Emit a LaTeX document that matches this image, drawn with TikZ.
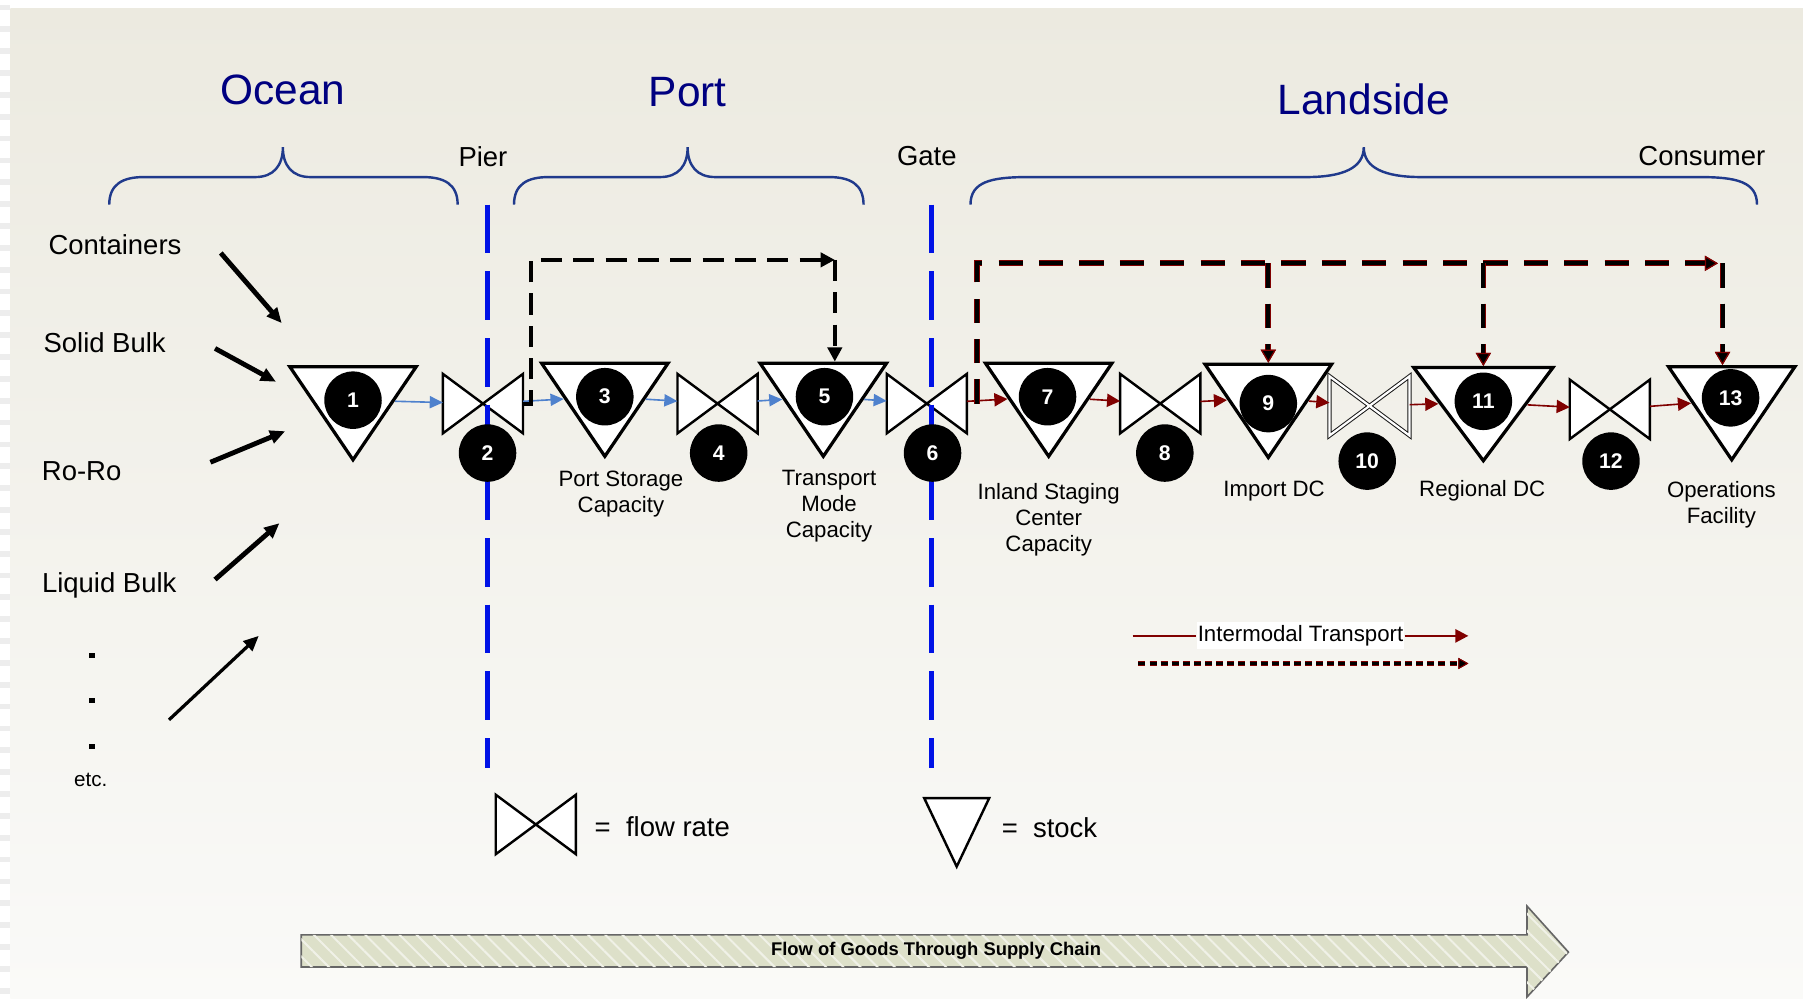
\documentclass[tikz,border=0pt]{standalone}
\usepackage{fontspec}
\setmainfont{Liberation Sans}
\usetikzlibrary{positioning, arrows.meta, shapes.geometric, patterns.meta}

\definecolor{navy}{RGB}{0,0,128}
\definecolor{bracecol}{RGB}{32,58,140}
\definecolor{pierblue}{RGB}{0,18,230}
\definecolor{flowblue}{RGB}{79,129,205}
\definecolor{darkred}{RGB}{128,0,0}
\definecolor{bgtop}{RGB}{236,234,224}
\definecolor{bgbottom}{RGB}{250,250,248}
\definecolor{shaft}{RGB}{221,224,201}

\tikzset{
	title/.style={text=navy, font=\fontsize{21}{25}\selectfont},
	tag/.style={font=\fontsize{13.6}{16}\selectfont},
	caption/.style={font=\fontsize{11}{12.8}\selectfont, align=center},
	stock/.style={isosceles triangle, isosceles triangle stretches, shape border rotate=270,
		draw, fill=white, line width=1.6pt, minimum width=2.2cm, minimum height=1.62cm, inner sep=0pt},
	valve/.style={minimum width=1.38cm, minimum height=1.02cm, inner sep=0pt,
		append after command={\pgfextra{\draw[fill=white, line width=1.2pt, #1]
			(\tikzlastnode.north west) -- (\tikzlastnode.south east) -- (\tikzlastnode.north east)
			-- (\tikzlastnode.south west) -- cycle;}}},
	valve/.default={},
	num/.style={circle, fill=black, text=white, minimum size=1cm, inner sep=0pt,
		font=\fontsize{10.5}{12}\selectfont\bfseries},
	dot/.style={rectangle, fill=black, minimum size=0.09cm, inner sep=0pt},
	brace/.style={draw=bracecol, line width=1.2pt},
	pierline/.style={draw=pierblue, line width=2.7pt, dash pattern=on 24pt off 9pt},
	input/.style={line width=2.4pt, -{Triangle[length=7.5pt, width=6.5pt]}},
	flowb/.style={color=flowblue, line width=0.8pt, -{Triangle[length=6.5pt, width=6pt]}},
	flowr/.style={color=darkred, line width=0.8pt, -{Triangle[length=6.5pt, width=6.5pt]}},
	blkdash/.style={line width=2pt, dash pattern=on 10.5pt off 5.5pt, -{Triangle[length=7pt, width=7pt]}},
	reddash/.style={line width=2pt, dash pattern=on 12pt off 8pt,
		preaction={draw=darkred, line width=2.8pt, dash pattern=on 12pt off 8pt},
		-{Triangle[length=6.5pt, width=7.5pt, color=darkred, fill=black, line width=0.6pt]}},
	legdash/.style={line width=1.5pt, dash pattern=on 3.5pt off 2pt,
		preaction={draw=darkred, line width=2.2pt, dash pattern=on 3.5pt off 2pt},
		-{Triangle[length=5pt, width=5.5pt, color=darkred, fill=black, line width=0.5pt]}},
	legred/.style={draw=darkred, line width=1.2pt},
	bigarrow/.style={draw=black!60, line width=0.8pt, fill=shaft,
		postaction={pattern={Lines[angle=-45, distance=6pt, line width=1pt]}, pattern color=white!55!shaft}}
}

\begin{document}
\begin{tikzpicture}[x=0.02cm, y=-0.02cm]
	\useasboundingbox (0,0) rectangle (1568,868);
	\shade[top color=bgtop, bottom color=bgbottom] (9,7) rectangle (1568,868);
	\foreach \y in {4,23,...,868}
		\fill[black!7] (0,\y) rectangle (9,\y+5);

	\node[title] (ocean) at (246,78) {Ocean};
	\node[title] (port) at (598,80) {Port};
	\node[title] (land) at (1186,86) {Landside};
	\node[tag] (pier) at (420,136) {Pier};
	\node[tag] (gate) at (806,136) {Gate};
	\node[tag] (consumer) at (1480,136) {Consumer};

	\draw[brace] (95,178) .. controls (95,160) and (107,154) .. (125,154) -- (222,154)
		.. controls (238,154) and (246,144) .. (246,128) .. controls (246,144) and (254,154) .. (270,154)
		-- (368,154) .. controls (386,154) and (398,160) .. (398,178);
	\draw[brace] (447,178) .. controls (447,160) and (459,154) .. (477,154) -- (574,154)
		.. controls (590,154) and (598,144) .. (598,128) .. controls (598,144) and (606,154) .. (622,154)
		-- (721,154) .. controls (739,154) and (751,160) .. (751,178);
	\draw[brace] (844,178) .. controls (844,158) and (862,154) .. (894,154) -- (1136,154)
		.. controls (1168,154) and (1186,146) .. (1186,128) .. controls (1186,146) and (1204,154) .. (1236,154)
		-- (1478,154) .. controls (1510,154) and (1528,158) .. (1528,178);

	\node[stock] (t1) at (307,348) {};
	\node[stock] (t3) at (526,345) {};
	\node[stock] (t5) at (716,345) {};
	\node[stock] (t7) at (912,345) {};
	\node[stock] (t9) at (1103,346) {};
	\node[stock, minimum width=2.42cm] (t11) at (1290,350) {};
	\node[stock] (t13) at (1506,348) {};

	\node[valve] (b2) at (420,351) {};
	\node[valve] (b4) at (624,351) {};
	\node[valve] (b6) at (806,351) {};
	\node[valve] (b8) at (1009,351) {};
	\node[valve={fill=none, draw=black!90, double=white, double distance=1.1pt, line width=0.5pt}] (b10) at (1191,353) {};
	\node[valve] (b12) at (1400,356) {};

	\draw[pierline] (424,178) -- (424,668);
	\draw[pierline] (810,178) -- (810,668);

	\node[num] (n1) at (307,348) {1};
	\node[num] (n2) at (424,394) {2};
	\node[num] (n3) at (526,345) {3};
	\node[num] (n4) at (625,394) {4};
	\node[num] (n5) at (717,345) {5};
	\node[num] (n6) at (811,394) {6};
	\node[num] (n7) at (911,345) {7};
	\node[num] (n8) at (1013,394) {8};
	\node[num] (n9) at (1103,351) {9};
	\node[num] (n10) at (1189,401) {10};
	\node[num] (n11) at (1290,349) {11};
	\node[num] (n12) at (1401,401) {12};
	\node[num] (n13) at (1505,346) {13};

	\node[caption] (c3) at (540,430) {Port Storage\\Capacity};
	\node[caption] (c5) at (721,440) {Transport\\Mode\\Capacity};
	\node[caption] (c7) at (912,452) {Inland Staging\\Center\\Capacity};
	\node[caption] (c9) at (1108,427) {Import DC};
	\node[caption] (c11) at (1289,427) {Regional DC};
	\node[caption] (c13) at (1497,439) {Operations\\Facility};

	\path[flowb]
		(t1) edge (b2)
		(b2) edge (t3)
		(t3) edge (b4)
		(b4) edge (t5)
		(t5) edge (b6);
	\path[flowr]
		(b6) edge (t7)
		(t7) edge (b8)
		(b8) edge (t9)
		(t9) edge (b10)
		(b10) edge (t11)
		(t11) edge (b12)
		(b12) edge (t13);

	\coordinate (pc) at (726,226);
	\draw[blkdash] (b2.east) -- ++(7,0) |- (pc);
	\draw[blkdash] (pc) -- (pc |- t5.lower side);

	\coordinate (rc) at (1494,229);
	\coordinate (rc13) at (1498,229);
	\draw[reddash] (b6.east) ++(9,0) |- (rc);
	\draw[reddash] (t9 |- rc) -- (t9.lower side);
	\draw[reddash] (t11 |- rc) -- (t11.lower side);
	\draw[reddash] (rc13) -- (rc13 |- t13.lower side);

	\node[tag] (containers) at (100,213) {Containers};
	\node[tag] (solid) at (91,298) {Solid Bulk};
	\node[tag] (roro) at (71,410) {Ro-Ro};
	\node[tag] (liquid) at (95,509) {Liquid Bulk};
	\node[dot] (d1) at (80,570) {};
	\node[dot] (d2) at (80,609) {};
	\node[dot] (d3) at (80,649) {};
	\node[font=\fontsize{10.2}{12}\selectfont] (etc) at (79,678) {etc.};

	\coordinate (a1) at (192,220); \coordinate (e1) at (245,281);
	\coordinate (a2) at (187,303); \coordinate (e2) at (240,332);
	\coordinate (a3) at (183,402); \coordinate (e3) at (248,375);
	\coordinate (a4) at (187,504); \coordinate (e4) at (243,455);
	\coordinate (a5) at (147,626); \coordinate (e5) at (225,553);
	\path[input]
		(a1) edge (e1)
		(a2) edge (e2)
		(a3) edge (e3)
		(a4) edge (e4);
	\draw[input, line width=1.6pt] (a5) -- (e5);

	\node[valve] (lflow) at (466,717) {};
	\node[tag, anchor=west] (lflowtxt) at (511,719) {=\ \ flow rate};
	\node[stock, minimum width=1.13cm, minimum height=1.19cm, line width=1.2pt] (lstock) at (832,712) {};
	\node[tag, anchor=west] (lstocktxt) at (865,720) {=\ \ stock};

	\node[caption, fill=white, inner xsep=0.5pt, inner ysep=1.5pt] (imt) at (1131,553) {Intermodal Transport};
	\coordinate (im0) at (985,553);
	\coordinate (im1) at (1277,553);
	\draw[legred] (im0) -- (imt.west);
	\draw[legred, -{Triangle[length=6.5pt, width=6.5pt]}] (imt.east) -- (im1);
	\coordinate (id0) at (990,577);
	\coordinate (id1) at (1277,577);
	\draw[legdash] (id0) -- (id1);

	\draw[bigarrow] (262,813) -- (1328,813) -- (1328,788) -- (1364,828) -- (1328,867)
		-- (1328,841) -- (262,841) -- cycle;
	\node[font=\fontsize{9.1}{11}\selectfont\bfseries] (flowtxt) at (814,827) {Flow of Goods Through Supply Chain};
\end{tikzpicture}
\end{document}
